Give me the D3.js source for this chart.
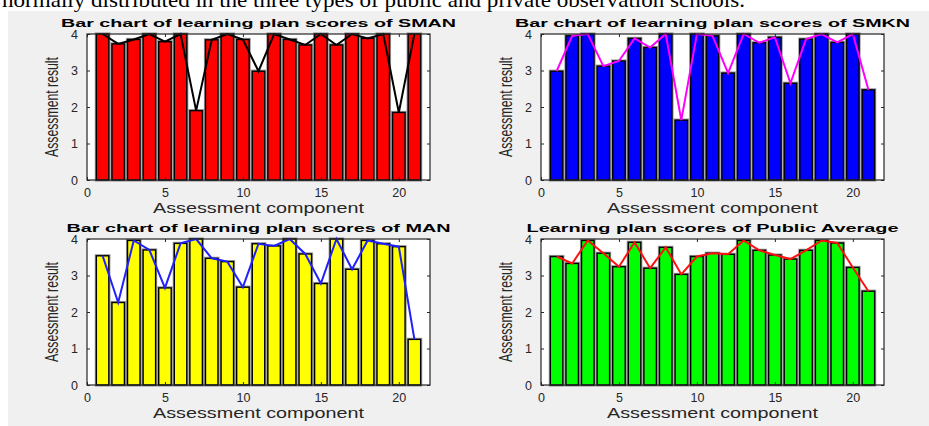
<!DOCTYPE html>
<html>
<head>
<meta charset="utf-8">
<script src="https://cdn.jsdelivr.net/npm/d3@7"></script>
<style>
  html, body { margin: 0; padding: 0; background: #ffffff; }
  svg { display: block; }
</style>
</head>
<body>
<svg id="fig" width="929" height="426"></svg>
<script>
// Assessment components 1..21 and the scores of each school group
const components = [1, 2, 3, 4, 5, 6, 7, 8, 9, 10, 11, 12, 13, 14, 15, 16, 17, 18, 19, 20, 21];
const smanScores = [4.00, 3.73, 3.85, 4.00, 3.79, 4.00, 1.90, 3.84, 4.00, 3.85, 2.98,
                    4.00, 3.85, 3.70, 4.00, 3.70, 4.00, 3.88, 4.00, 1.85, 4.00];
const smknScores = [2.98, 3.95, 4.00, 3.12, 3.26, 3.88, 3.63, 4.00, 1.64, 4.00, 3.95,
                    2.93, 4.00, 3.76, 3.91, 2.65, 3.86, 4.00, 3.77, 4.00, 2.47];
const manScores = [3.54, 2.26, 3.96, 3.70, 2.66, 3.88, 4.00, 3.47, 3.38, 2.68, 3.87,
                   3.81, 4.00, 3.59, 2.78, 4.00, 3.17, 3.96, 3.87, 3.79, 1.25];
const publicAverageScores = [3.52, 3.33, 3.96, 3.61, 3.24, 3.91, 3.20, 3.77, 3.03, 3.52, 3.61,
                             3.58, 3.96, 3.69, 3.56, 3.45, 3.69, 3.96, 3.89, 3.22, 2.57];

const xTickValues = [0, 5, 10, 15, 20];
const yTickValues = [0, 1, 2, 3, 4];
const xDomain = [0, 22];
const yDomain = [0, 4];

const panelTitles = [
  "Bar chart of learning plan scores of SMAN",
  "Bar chart of learning plan scores of SMKN",
  "Bar chart of learning plan scores of MAN",
  "Learning plan scores of Public Average"
];
const xAxisTitle = "Assessment component";
const yAxisTitle = "Assessment result";
const captionText = "normally distributed in the three types of public and private observation schools.";

// Layout of the 2x2 grid of axes
const axW = 343, axH = 146;
const panels = [
  { title: panelTitles[0], values: smanScores,          barFill: "#ff0000", lineColor: "#000000", left: 87,  top: 34,  titleLen: 395 },
  { title: panelTitles[1], values: smknScores,          barFill: "#0000ff", lineColor: "#ff00ff", left: 541, top: 34,  titleLen: 395 },
  { title: panelTitles[2], values: manScores,           barFill: "#ffff00", lineColor: "#2020ff", left: 87,  top: 239, titleLen: 384 },
  { title: panelTitles[3], values: publicAverageScores, barFill: "#00ff00", lineColor: "#ff1010", left: 541, top: 239, titleLen: 372 }
];

const svg = d3.select("#fig");
const SANS = "'Liberation Sans', Arial, Helvetica, sans-serif";
const AXIS_INK = "#262626";

// Page background and the grey figure area
svg.append("rect").attr("width", 929).attr("height", 426).attr("fill", "#ffffff");
svg.append("rect").attr("x", 8).attr("y", 11).attr("width", 921).attr("height", 415).attr("fill", "#f0f0f0");

// Running text line above the figure
svg.append("text")
  .attr("x", 2).attr("y", 7)
  .attr("font-family", "'Liberation Serif', 'Times New Roman', serif")
  .attr("font-size", 21)
  .attr("textLength", 743)
  .attr("lengthAdjust", "spacingAndGlyphs")
  .attr("fill", "#000")
  .text(captionText);

panels.forEach(p => {
  const x = d3.scaleLinear().domain(xDomain).range([p.left, p.left + axW]);
  const y = d3.scaleLinear().domain(yDomain).range([p.top + axH, p.top]);
  const g = svg.append("g");

  // white plotting area
  g.append("rect")
    .attr("x", p.left).attr("y", p.top)
    .attr("width", axW).attr("height", axH)
    .attr("fill", "#ffffff");

  const data = components.map((c, i) => ({ c, v: p.values[i] }));
  const halfW = 0.4;

  // soft edge under each bar outline
  g.append("g").selectAll("rect").data(data).join("rect")
    .attr("x", d => x(d.c - halfW))
    .attr("y", d => y(d.v))
    .attr("width", d => x(d.c + halfW) - x(d.c - halfW))
    .attr("height", d => y(0) - y(d.v))
    .attr("fill", "none")
    .attr("stroke", "#9a9a9a")
    .attr("stroke-width", 3.2);

  // bars
  g.append("g").selectAll("rect").data(data).join("rect")
    .attr("x", d => x(d.c - halfW))
    .attr("y", d => y(d.v))
    .attr("width", d => x(d.c + halfW) - x(d.c - halfW))
    .attr("height", d => y(0) - y(d.v))
    .attr("fill", p.barFill)
    .attr("stroke", "#000000")
    .attr("stroke-width", 1.4);

  // trend line through the bar tops
  const line = d3.line().x(d => x(d.c)).y(d => y(d.v));
  g.append("path")
    .datum(data)
    .attr("d", line)
    .attr("fill", "none")
    .attr("stroke", p.lineColor)
    .attr("stroke-width", 2)
    .attr("stroke-linejoin", "miter");

  // axes with inward ticks
  const styleAxis = sel => {
    sel.select(".domain").remove();
    sel.selectAll(".tick line").attr("stroke", AXIS_INK);
    sel.selectAll(".tick text")
      .attr("fill", AXIS_INK)
      .attr("font-family", SANS)
      .attr("font-size", 12.5);
  };

  g.append("g")
    .attr("transform", `translate(0,${p.top + axH})`)
    .call(d3.axisBottom(x).tickValues(xTickValues).tickSize(-3).tickPadding(8).tickFormat(d3.format("d")))
    .call(styleAxis);
  g.append("g")
    .attr("transform", `translate(0,${p.top})`)
    .call(d3.axisTop(x).tickValues(xTickValues).tickSize(-3).tickFormat(""))
    .call(styleAxis);
  g.append("g")
    .attr("transform", `translate(${p.left},0)`)
    .call(d3.axisLeft(y).tickValues(yTickValues).tickSize(-3).tickPadding(9).tickFormat(d3.format("d")))
    .call(styleAxis);
  g.append("g")
    .attr("transform", `translate(${p.left + axW},0)`)
    .call(d3.axisRight(y).tickValues(yTickValues).tickSize(-3).tickFormat(""))
    .call(styleAxis);

  // axes box
  g.append("rect")
    .attr("x", p.left).attr("y", p.top)
    .attr("width", axW).attr("height", axH)
    .attr("fill", "none")
    .attr("stroke", AXIS_INK)
    .attr("stroke-width", 1.2);

  // panel title
  g.append("text")
    .attr("x", p.left + axW / 2).attr("y", p.top - 7)
    .attr("text-anchor", "middle")
    .attr("font-family", SANS)
    .attr("font-weight", "bold")
    .attr("font-size", 11.5)
    .attr("textLength", p.titleLen)
    .attr("lengthAdjust", "spacingAndGlyphs")
    .attr("fill", "#000")
    .text(p.title);

  // x axis label
  g.append("text")
    .attr("x", p.left + axW / 2).attr("y", p.top + axH + 33)
    .attr("text-anchor", "middle")
    .attr("font-family", SANS)
    .attr("font-size", 14.5)
    .attr("textLength", 211)
    .attr("lengthAdjust", "spacingAndGlyphs")
    .attr("fill", AXIS_INK)
    .text(xAxisTitle);

  // y axis label
  g.append("text")
    .attr("transform", `translate(${p.left - 29},${p.top + axH / 2}) rotate(-90)`)
    .attr("text-anchor", "middle")
    .attr("font-family", SANS)
    .attr("font-size", 18)
    .attr("textLength", 100)
    .attr("lengthAdjust", "spacingAndGlyphs")
    .attr("fill", AXIS_INK)
    .text(yAxisTitle);
});
</script>
</body>
</html>
